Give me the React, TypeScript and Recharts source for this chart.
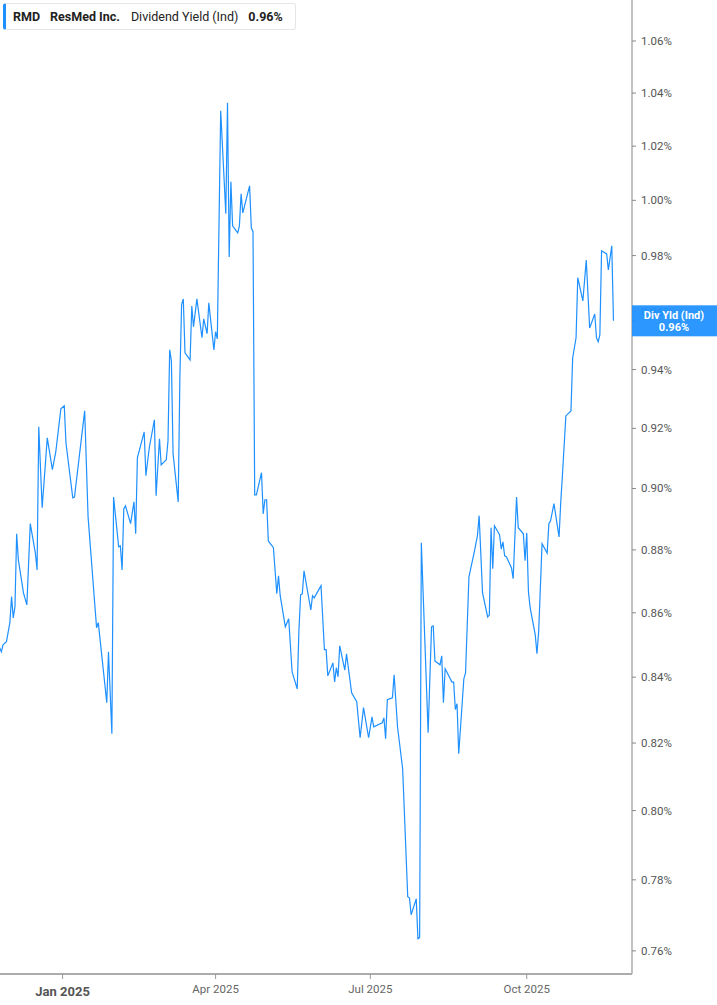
import React from 'react';
import { LineChart, Line, XAxis, YAxis } from 'recharts';

// x positions are days counted from 1 Jan 2025 (negative = Dec 2024)
const days = [
  -37, -36, -35, -33, -31, -30, -29, -28, -27, -26,
  -23, -21, -19, -16, -15, -14, -12, -9, -6, -4,
  -1, 1, 2, 6, 7, 13, 15, 20, 21, 26,
  27, 29, 30, 33, 34, 35, 36, 37, 40, 42,
  43, 44, 48, 49, 51, 54, 55, 57, 58, 61,
  62, 63, 64, 65, 68, 69, 70, 71, 72, 75,
  76, 77, 79, 82, 83, 85, 86, 89, 90, 91,
  93, 96, 97, 98, 99, 100, 103, 104, 105, 106,
  110, 111, 112, 113, 114, 117, 118, 119, 120, 121,
  124, 126, 127, 128, 131, 133, 135, 138, 139, 140,
  141, 142, 146, 147, 148, 152, 154, 155, 156, 159,
  160, 161, 162, 163, 166, 167, 170, 173, 175, 177,
  180, 182, 183, 188, 189, 190, 191, 194, 195, 197,
  200, 203, 204, 205, 208, 209, 210, 211, 215, 217,
  218, 219, 222, 223, 224, 225, 226, 229, 230, 231,
  232, 233, 236, 237, 239, 242, 244, 245, 247, 250,
  251, 252, 253, 254, 257, 258, 259, 260, 261, 264,
  265, 267, 268, 271, 272, 273, 274, 275, 278, 279,
  280, 282, 285, 286, 287, 289, 292, 293, 294, 296,
  299, 300, 302, 303, 306, 308, 310, 313, 314, 315,
  316, 317, 320, 321, 323, 324,
];

// dividend yield (indicated), in percent
const yields = [
  0.8491, 0.8478, 0.85, 0.851, 0.8569, 0.8651, 0.8584, 0.8619, 0.8852, 0.8768,
  0.8663, 0.8625, 0.8885, 0.879, 0.8736, 0.9205, 0.8937, 0.9168, 0.9062, 0.9121,
  0.9266, 0.9276, 0.9151, 0.8969, 0.8972, 0.9259, 0.8907, 0.8553, 0.8569, 0.8322,
  0.8478, 0.8228, 0.8972, 0.881, 0.8813, 0.8736, 0.8933, 0.8943, 0.8885, 0.8956,
  0.8852, 0.9101, 0.9188, 0.9042, 0.9135, 0.9229, 0.8976, 0.9165, 0.9078, 0.9095,
  0.9158, 0.9468, 0.943, 0.9115, 0.8956, 0.9378, 0.9625, 0.9646, 0.9458, 0.9433,
  0.9621, 0.9548, 0.9646, 0.951, 0.9576, 0.9524, 0.9632, 0.9468, 0.9531, 0.9506,
  1.0333, 0.9951, 1.0363, 0.9795, 1.0068, 0.9907, 0.9882, 0.9907, 1.0024, 0.9954,
  1.0053, 0.99, 0.9886, 0.8979, 0.8979, 0.9052, 0.8917, 0.8963, 0.8963, 0.8829,
  0.8807, 0.866, 0.8717, 0.8654, 0.8556, 0.8581, 0.8416, 0.8364, 0.8544, 0.8657,
  0.866, 0.8733, 0.8609, 0.8654, 0.8647, 0.8686, 0.8485, 0.8485, 0.8404, 0.8444,
  0.8385, 0.8429, 0.8401, 0.8497, 0.8422, 0.8472, 0.8352, 0.8325, 0.8216, 0.8307,
  0.8216, 0.8279, 0.8249, 0.8261, 0.8276, 0.8213, 0.8331, 0.8337, 0.8407, 0.8249,
  0.8124, 0.7752, 0.7749, 0.7701, 0.7746, 0.7634, 0.7637, 0.8823, 0.8231, 0.8556,
  0.8559, 0.845, 0.8438, 0.8466, 0.8322, 0.8426, 0.8416, 0.8385, 0.8385, 0.8301,
  0.8319, 0.8168, 0.8395, 0.8413, 0.8714, 0.879, 0.8846, 0.8911, 0.8663, 0.8587,
  0.8593, 0.8872, 0.874, 0.8878, 0.8849, 0.8803, 0.8826, 0.8781, 0.8778, 0.8743,
  0.8708, 0.8972, 0.8872, 0.8852, 0.8765, 0.8855, 0.8666, 0.8616, 0.8531, 0.8472,
  0.8541, 0.882, 0.879, 0.8885, 0.8894, 0.895, 0.8842, 0.8956, 0.9045, 0.9242,
  0.9259, 0.944, 0.951, 0.9721, 0.9639, 0.9784, 0.9544, 0.9593, 0.951, 0.9496,
  0.952, 0.9817, 0.9806, 0.9749, 0.9835, 0.9569,
];

const yTicks = [0.76, 0.78, 0.8, 0.82, 0.84, 0.86, 0.88, 0.9, 0.92, 0.94, 0.96, 0.98, 1.0, 1.02, 1.04, 1.06];
const xTicks = [0, 90, 181, 273];
const xTickLabels = ['Jan 2025', 'Apr 2025', 'Jul 2025', 'Oct 2025'];

const BLUE = '#1e90ff';
const AXIS = '#acacac';

const data = days.map((d, i) => ({ day: d, value: yields[i] }));
const lastValue = yields[yields.length - 1];
const lastLabel = lastValue.toFixed(2);
// last value goes at the end so its tag is drawn over the regular ticks
const axisTicks = [...yTicks, lastValue];

const DateTick = (props: any) => {
  const { x, y, payload } = props;
  const idx = xTicks.indexOf(payload.value);
  const first = idx === 0;
  return (
    <text
      x={x}
      y={y}
      dy={first ? 15 : 12}
      textAnchor="middle"
      fill={first ? '#555' : '#666'}
      fontSize={first ? 13 : 11.5}
      fontWeight={first ? 700 : 400}
    >
      {xTickLabels[idx]}
    </text>
  );
};

const YieldTick = (props: any) => {
  const { x, y, payload } = props;
  if (payload.value === lastValue) {
    const left = x - 9; // back to the axis line
    return (
      <g>
        <rect x={left} y={y - 15.5} width={85} height={31} fill={BLUE} fillOpacity={0.94} />
        <text x={left + 42} y={y - 2} textAnchor="middle" fill="#fff" fontSize={11} fontWeight={700}>
          Div Yld (Ind)
        </text>
        <text x={left + 42} y={y + 10} textAnchor="middle" fill="#fff" fontSize={11} fontWeight={700}>
          {lastLabel}%
        </text>
      </g>
    );
  }
  return (
    <text x={x} y={y} dy={4} textAnchor="start" fill="#555" fontSize={11.5}>
      {payload.value.toFixed(2)}%
    </text>
  );
};

export default function App() {
  return (
    <div style={{ position: 'absolute', left: 0, top: 0, width: 717, height: 1005, fontFamily: 'Roboto, sans-serif' }}>
      <LineChart width={717} height={1005} data={data} margin={{ top: 0, right: 0, left: 0, bottom: 0 }}>
        <XAxis
          dataKey="day"
          type="number"
          domain={[-36.8, 334.9]}
          allowDataOverflow
          ticks={xTicks}
          tick={<DateTick />}
          height={31}
          tickSize={5}
          axisLine={{ stroke: AXIS, strokeWidth: 2 }}
          tickLine={{ stroke: '#999' }}
        />
        <YAxis
          orientation="right"
          type="number"
          scale="log"
          domain={[0.7536, 1.076]}
          allowDataOverflow
          ticks={axisTicks}
          interval={0}
          width={85}
          tickSize={4}
          tickMargin={5}
          tick={<YieldTick />}
          axisLine={{ stroke: AXIS, strokeWidth: 1.5 }}
          tickLine={{ stroke: '#888' }}
        />
        <Line
          type="linear"
          dataKey="value"
          stroke={BLUE}
          strokeWidth={1.2}
          dot={false}
          isAnimationActive={false}
        />
      </LineChart>
      <div
        style={{
          position: 'absolute',
          left: 3,
          top: 3,
          width: 293,
          height: 27,
          boxSizing: 'border-box',
          border: '1px solid #e6e6e6',
          borderLeft: `3px solid ${BLUE}`,
          borderRadius: 3,
          background: '#fff',
          display: 'flex',
          alignItems: 'center',
          paddingLeft: 7,
          fontSize: 12.5,
          color: '#222',
          whiteSpace: 'nowrap',
        }}
      >
        <span style={{ fontWeight: 700, marginRight: 10 }}>RMD</span>
        <span style={{ fontWeight: 700, marginRight: 11 }}>ResMed Inc.</span>
        <span style={{ marginRight: 10 }}>Dividend Yield (Ind)</span>
        <span style={{ fontWeight: 700 }}>0.96%</span>
      </div>
    </div>
  );
}
